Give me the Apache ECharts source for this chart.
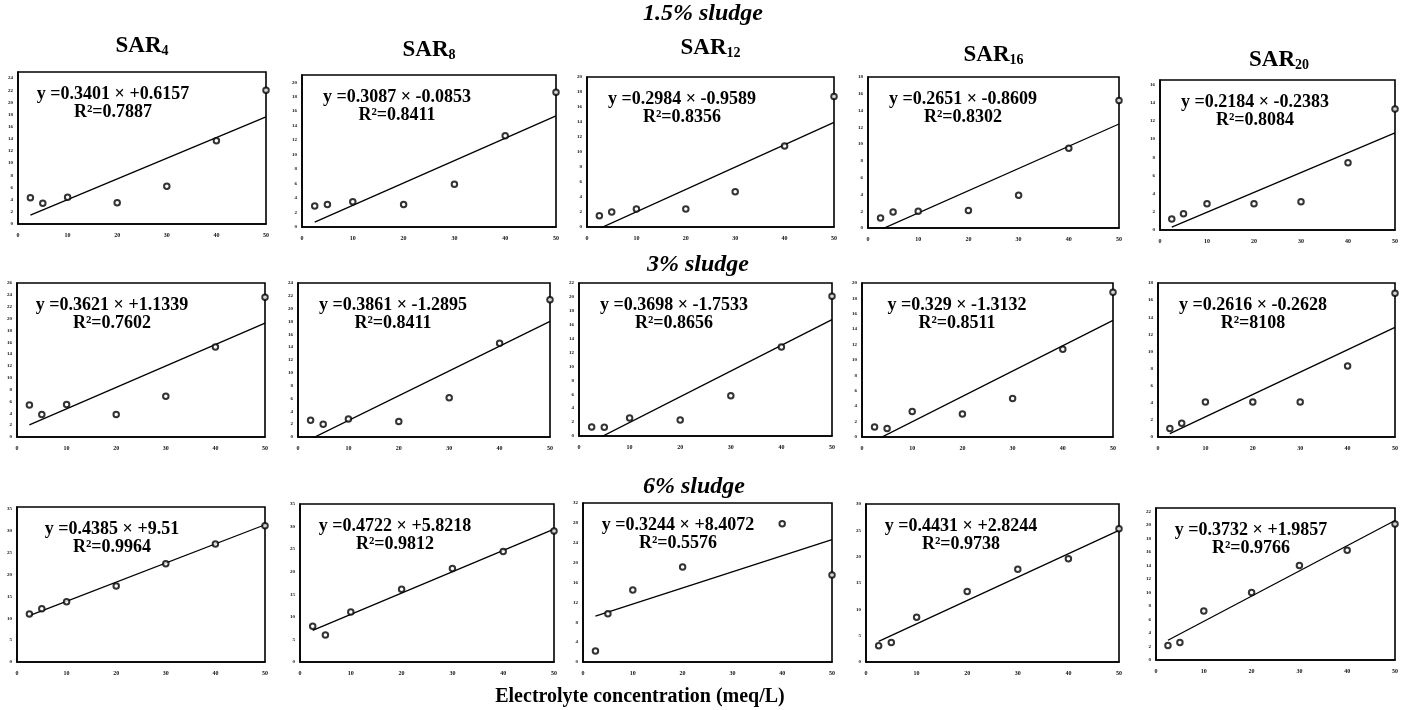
<!DOCTYPE html>
<html>
<head>
<meta charset="utf-8">
<script src="https://cdn.jsdelivr.net/npm/echarts@6/dist/echarts.min.js"></script>
<style>
  html, body { margin: 0; padding: 0; background: #fff; }
  #chart { width: 1401px; height: 710px; }
</style>
</head>
<body>
<div id="chart"></div>
<script>
// Electrolyte concentrations (meq/L) at which each suspension was measured
const conc = [2.5, 5, 10, 20, 30, 40, 50];
const xTicks = [0, 10, 20, 30, 40, 50];
const sarNames = ['4', '8', '12', '16', '20'];
const sludgeNames = ['1.5% sludge', '3% sludge', '6% sludge'];
const xAxisName = 'Electrolyte concentration (meq/L)';

// 1.5% sludge
const s15_4  = [4.3, 3.4, 4.4, 3.5, 6.2, 13.7, 22.0];
const s15_8  = [2.9, 3.1, 3.5, 3.1, 5.9, 12.6, 18.6];
const s15_12 = [1.5, 2.0, 2.4, 2.4, 4.7, 10.8, 17.4];
const s15_16 = [1.2, 1.9, 2.0, 2.1, 3.9, 9.5, 15.2];
const s15_20 = [1.2, 1.8, 2.9, 2.9, 3.1, 7.4, 13.3];
const slope15 = ['0.3401', '0.3087', '0.2984', '0.2651', '0.2184'];
const icpt15  = ['+0.6157', '-0.0853', '-0.9589', '-0.8609', '-0.2383'];
const r2_15   = ['0.7887', '0.8411', '0.8356', '0.8302', '0.8084'];
const yMax15  = [25, 21, 20, 18, 16.5];
const yStep15 = [2, 2, 2, 2, 2];

// 3% sludge
const s3_4  = [5.4, 3.8, 5.5, 3.8, 6.9, 15.2, 23.6];
const s3_8  = [2.6, 2.0, 2.8, 2.4, 6.1, 14.6, 21.4];
const s3_12 = [1.3, 1.25, 2.6, 2.3, 5.8, 12.8, 20.1];
const s3_16 = [1.3, 1.1, 3.3, 3.0, 5.0, 11.4, 18.8];
const s3_20 = [1.0, 1.6, 4.1, 4.1, 4.1, 8.3, 16.8];
const slope3 = ['0.3621', '0.3861', '0.3698', '0.329', '0.2616'];
const icpt3  = ['+1.1339', '-1.2895', '-1.7533', '-1.3132', '-0.2628'];
const r2_3   = ['0.7602', '0.8411', '0.8656', '0.8511', '8108'];
const yMax3  = [26, 24, 22, 20, 18];
const yStep3 = [2, 2, 2, 2, 2];

// 6% sludge (no reading at 30 meq/L for SAR 12)
const s6_4  = [11.0, 12.2, 13.8, 17.4, 22.5, 27.0, 31.2];
const s6_8  = [7.9, 6.0, 11.1, 16.1, 20.7, 24.5, 29.0];
const s6_12 = [2.2, 9.7, 14.5, 19.1, null, 27.8, 17.5];
const s6_16 = [3.1, 3.7, 8.5, 13.4, 17.6, 19.6, 25.3];
const s6_20 = [2.15, 2.6, 7.25, 10.0, 14.0, 16.25, 20.15];
const slope6 = ['0.4385', '0.4722', '0.3244', '0.4431', '0.3732'];
const icpt6  = ['+9.51', '+5.8218', '+8.4072', '+2.8244', '+1.9857'];
const r2_6   = ['0.9964', '0.9812', '0.5576', '0.9738', '0.9766'];
const yMax6  = [35.5, 35, 32, 30, 22.5];
const yStep6 = [5, 5, 4, 5, 2];

const rows = [
  { values: [s15_4, s15_8, s15_12, s15_16, s15_20], slope: slope15, icpt: icpt15, r2: r2_15, ymax: yMax15, ystep: yStep15 },
  { values: [s3_4, s3_8, s3_12, s3_16, s3_20], slope: slope3, icpt: icpt3, r2: r2_3, ymax: yMax3, ystep: yStep3 },
  { values: [s6_4, s6_8, s6_12, s6_16, s6_20], slope: slope6, icpt: icpt6, r2: r2_6, ymax: yMax6, ystep: yStep6 }
];

// plot frames: [left, top, width, height]
const frames = [
  [[18, 72, 248, 152], [302, 75, 254, 152], [587, 77, 247, 150], [868, 77, 251, 151], [1160, 80, 238, 150]],
  [[17, 283, 248, 154], [298, 283, 252, 154], [579, 283, 253, 153], [862, 283, 251, 154], [1158, 283, 240, 154]],
  [[17, 507, 248, 155], [300, 504, 254, 158], [583, 503, 249, 159], [866, 504, 253, 158], [1156, 508, 241, 152]]
];
const titleY = [45, 49, 47, 54, 59];
const rowTitlePos = [[703, 14], [698, 265], [694, 487]];

const SERIF = '"Liberation Serif", "Times New Roman", serif';
const grids = [], xAxes = [], yAxes = [], series = [], graphics = [];

rows.forEach((row, r) => {
  row.values.forEach((vals, c) => {
    const i = grids.length;
    const [left, top, width, height] = frames[r][c];
    grids.push({ left, top, width, height, show: true, borderColor: '#000', borderWidth: 1.6, backgroundColor: 'transparent' });
    xAxes.push({
      type: 'value', gridIndex: i, min: xTicks[0], max: xTicks[xTicks.length - 1], interval: xTicks[1] - xTicks[0],
      axisLine: { show: true, onZero: false, lineStyle: { color: '#000', width: 1.6 } },
      axisTick: { show: false }, splitLine: { show: false },
      axisLabel: { fontSize: 6, fontWeight: 'bold', color: '#111', margin: 8, fontFamily: SERIF }
    });
    const ymax = row.ymax[c], ystep = row.ystep[c];
    yAxes.push({
      type: 'value', gridIndex: i, min: 0, max: ymax, interval: ystep,
      axisLine: { show: true, lineStyle: { color: '#000', width: 1.6 } },
      axisTick: { show: false }, splitLine: { show: false },
      axisLabel: { fontSize: 5, fontWeight: 'bold', color: '#111', margin: 5, fontFamily: SERIF,
                   showMaxLabel: ymax % ystep === 0 }
    });
    const pts = conc.map((x, k) => [x, vals[k]]).filter(p => p[1] !== null);
    series.push({
      type: 'scatter', xAxisIndex: i, yAxisIndex: i, data: pts,
      symbol: 'emptyCircle', symbolSize: 5.5,
      itemStyle: { color: '#000', borderColor: '#000', borderWidth: 1.8 },
      z: 3, silent: true
    });
    // least-squares line from the printed coefficients
    const a = Number(row.slope[c]), b = Number(row.icpt[c]);
    const x0 = conc[0], x1 = conc[conc.length - 1];
    series.push({
      type: 'line', xAxisIndex: i, yAxisIndex: i, data: [[x0, a * x0 + b], [x1, a * x1 + b]],
      symbol: 'none', clip: true, lineStyle: { color: '#000', width: 1.3 }, z: 2, silent: true
    });
    const cx = left + 95;
    graphics.push({
      type: 'text', x: cx, y: top + 22, z: 10,
      style: { text: 'y =' + row.slope[c] + ' \u00d7 ' + row.icpt[c], font: 'bold 18px ' + SERIF, fill: '#000', align: 'center', verticalAlign: 'middle' }
    });
    graphics.push({
      type: 'text', x: cx, y: top + 40, z: 10,
      style: { text: 'R\u00b2=' + row.r2[c], font: 'bold 18px ' + SERIF, fill: '#000', align: 'center', verticalAlign: 'middle' }
    });
    if (r === 0) {
      graphics.push({
        type: 'text', x: left + width / 2, y: titleY[c], z: 10,
        style: {
          text: '{a|SAR}{b|' + sarNames[c] + '}', align: 'center', verticalAlign: 'middle',
          rich: {
            a: { fontFamily: SERIF, fontWeight: 'bold', fontSize: 23, lineHeight: 26, verticalAlign: 'bottom', fill: '#000' },
            b: { fontFamily: SERIF, fontWeight: 'bold', fontSize: 14, lineHeight: 14, verticalAlign: 'bottom', fill: '#000' }
          }
        }
      });
    }
  });
  graphics.push({
    type: 'text', x: rowTitlePos[r][0], y: rowTitlePos[r][1], z: 10,
    style: { text: sludgeNames[r], font: 'italic bold 24px ' + SERIF, fill: '#000', align: 'center', verticalAlign: 'middle' }
  });
});

graphics.push({
  type: 'text', x: 640, y: 697, z: 10,
  style: { text: xAxisName, font: 'bold 20px ' + SERIF, fill: '#000', align: 'center', verticalAlign: 'middle' }
});

const chart = echarts.init(document.getElementById('chart'), null, { renderer: 'canvas' });
chart.setOption({
  animation: false,
  backgroundColor: '#fff',
  grid: grids,
  xAxis: xAxes,
  yAxis: yAxes,
  series: series,
  graphic: graphics
});
</script>
</body>
</html>
